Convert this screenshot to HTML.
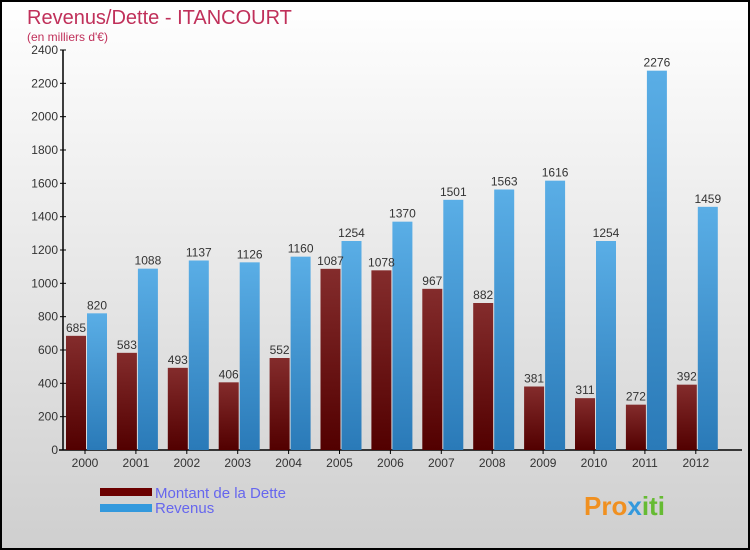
<!DOCTYPE html>
<html><head><meta charset="utf-8"><style>
body{margin:0;width:750px;height:550px;overflow:hidden;font-family:"Liberation Sans",sans-serif}
#wrap{position:absolute;left:0;top:0;width:746px;height:546px;border:2px solid #000;background:linear-gradient(#fff,#cfcfcf)}
</style></head><body>
<div id="wrap">
<svg id="chart" width="746" height="546" style="position:absolute;left:0;top:0">
<defs>
<linearGradient id="gd" x1="0" y1="0" x2="0" y2="1"><stop offset="0" stop-color="#842c2c"/><stop offset="1" stop-color="#520000"/></linearGradient>
<linearGradient id="gr" x1="0" y1="0" x2="0" y2="1"><stop offset="0" stop-color="#5aaee6"/><stop offset="1" stop-color="#2a7ab8"/></linearGradient>
</defs>
<text x="25" y="22" font-size="20" fill="#c0305a">Revenus/Dette - ITANCOURT</text>
<text x="25" y="39" font-size="12" fill="#c0305a">(en milliers d'€)</text>
<g id="axes"></g><g id="bars"></g>
<rect x="98" y="486" width="52" height="8" fill="#6b0000"/>
<rect x="98" y="502" width="52" height="8" fill="#3399dd"/>
<text x="153" y="496" font-size="15" fill="#6666ee">Montant de la Dette</text>
<text x="153" y="511" font-size="15" fill="#6666ee">Revenus</text>
<text x="582" y="513" font-size="26" font-weight="bold" fill="#f09020">Pro<tspan fill="#3399dd">x</tspan><tspan fill="#66bb33">iti</tspan></text>
</svg></div>
<script>
const years=["2000","2001","2002","2003","2004","2005","2006","2007","2008","2009","2010","2011","2012"];
const dette=[685,583,493,406,552,1087,1078,967,882,381,311,272,392];
const revenus=[820,1088,1137,1126,1160,1254,1370,1501,1563,1616,1254,2276,1459];
const ticks=[0,200,400,600,800,1000,1200,1400,1600,1800,2000,2200,2400];
const NS="http://www.w3.org/2000/svg";
const x0=61,y0=448,yTop=48,vmax=2400,step=50.9,first=83;
const Y=v=>y0-(v/vmax)*(y0-yTop);
const X=i=>first+i*step;
const ax=document.getElementById('axes'),bg=document.getElementById('bars');
function mk(t,a,p){const e=document.createElementNS(NS,t);for(const k in a)e.setAttribute(k,a[k]);p.appendChild(e);return e;}
let l=mk('line',{x1:x0,y1:yTop,x2:x0,y2:y0,stroke:'#000','stroke-width':1.5},ax);


l=mk('line',{x1:x0-4,y1:y0,x2:740,y2:y0,stroke:'#000','stroke-width':1.5},ax);


ticks.forEach(v=>{
 mk('line',{x1:x0-3,y1:Y(v),x2:x0+3,y2:Y(v),stroke:'#000'},ax);
 const t=mk('text',{x:x0-5,y:Y(v)+4,'font-size':12,fill:'#333','text-anchor':'end'},ax);t.textContent=v;
 
 
});
years.forEach((yr,i)=>{
 const c=X(i);
 mk('line',{x1:c,y1:y0,x2:c,y2:y0+4,stroke:'#000'},ax);
 const t=mk('text',{x:c,y:y0+17,'font-size':12,fill:'#333','text-anchor':'middle'},ax);t.textContent=yr;
 
 
 let r=mk('rect',{x:c-19,y:Y(dette[i]),width:20,height:y0-Y(dette[i]),fill:'url(#gd)'},bg);
 
 
 r=mk('rect',{x:c+2,y:Y(revenus[i]),width:20,height:y0-Y(revenus[i]),fill:'url(#gr)'},bg);
 
 
 let v=mk('text',{x:c-9,y:Y(dette[i])-4,'font-size':12,fill:'#333','text-anchor':'middle'},bg);v.textContent=dette[i];
 
 
 v=mk('text',{x:c+12,y:Y(revenus[i])-4,'font-size':12,fill:'#333','text-anchor':'middle'},bg);v.textContent=revenus[i];
 
 
});
</script>
</body></html>
